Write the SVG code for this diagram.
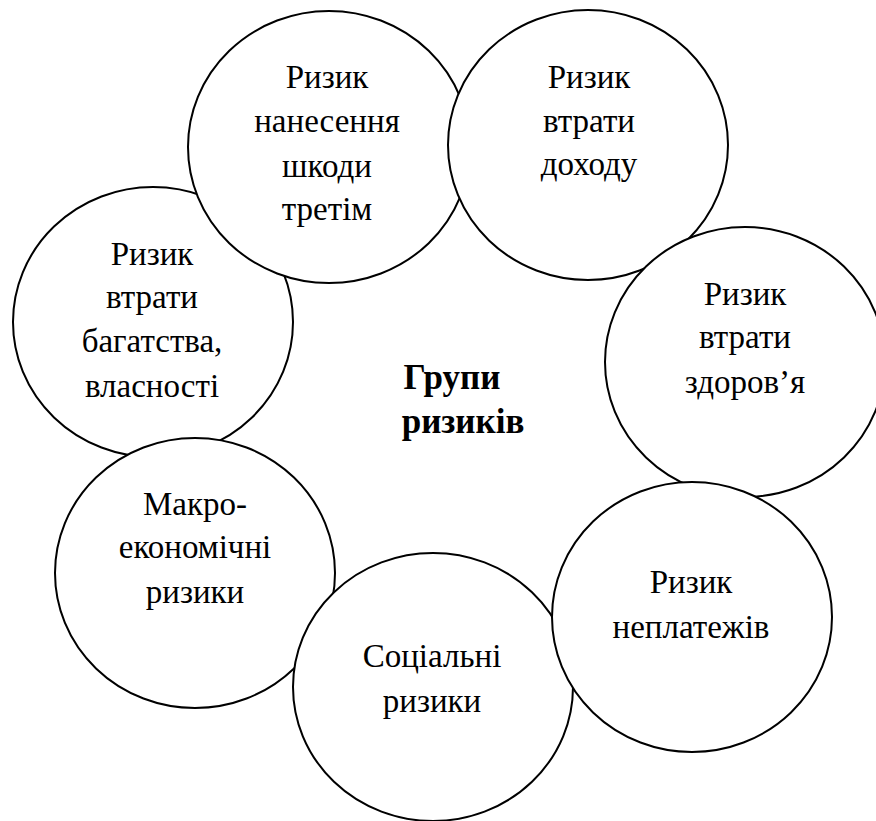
<svg xmlns="http://www.w3.org/2000/svg" width="876" height="821" viewBox="0 0 876 821">
<style>
.c{fill:#fff;stroke:#000;stroke-width:2}
text{font-family:'Liberation Serif','Times New Roman','DejaVu Serif',serif;font-size:33px;text-anchor:middle;fill:#000}
.b{font-weight:bold;font-size:35px}
</style>
<rect width="876" height="821" fill="#fff"/>
<g id="connectors"></g>
<g id="n7"><ellipse class="c" cx="153" cy="322" rx="140" ry="135"/>
<text x="152" y="265">Ризик</text><text x="152" y="308">втрати</text><text x="152" y="352">багатства,</text><text x="152" y="397">власності</text></g>
<g id="n1"><ellipse class="c" cx="329" cy="147" rx="141" ry="136"/>
<text x="327" y="88">Ризик</text><text x="327" y="132">нанесення</text><text x="327" y="177">шкоди</text><text x="327" y="220">третім</text></g>
<g id="n2"><ellipse class="c" cx="588" cy="145" rx="140" ry="135"/>
<text x="589" y="88">Ризик</text><text x="589" y="132">втрати</text><text x="589" y="175">доходу</text></g>
<g id="n3"><ellipse class="c" cx="745" cy="362" rx="140" ry="135"/>
<text x="745" y="305">Ризик</text><text x="745" y="348">втрати</text><text x="745" y="393">здоров’я</text></g>
<g id="n6"><ellipse class="c" cx="195" cy="573" rx="140" ry="135"/>
<text x="195" y="515">Макро-</text><text x="195" y="558">економічні</text><text x="195" y="603">ризики</text></g>
<g id="n5"><ellipse class="c" cx="433" cy="687" rx="140" ry="134"/>
<text x="432" y="667">Соціальні</text><text x="432" y="712">ризики</text></g>
<g id="n4"><ellipse class="c" cx="692" cy="617" rx="140" ry="135"/>
<text x="691" y="593">Ризик</text><text x="691" y="638">неплатежів</text></g>
<g id="center"><text class="b" x="452" y="389">Групи</text><text class="b" x="463" y="433">ризиків</text></g>
</svg>
